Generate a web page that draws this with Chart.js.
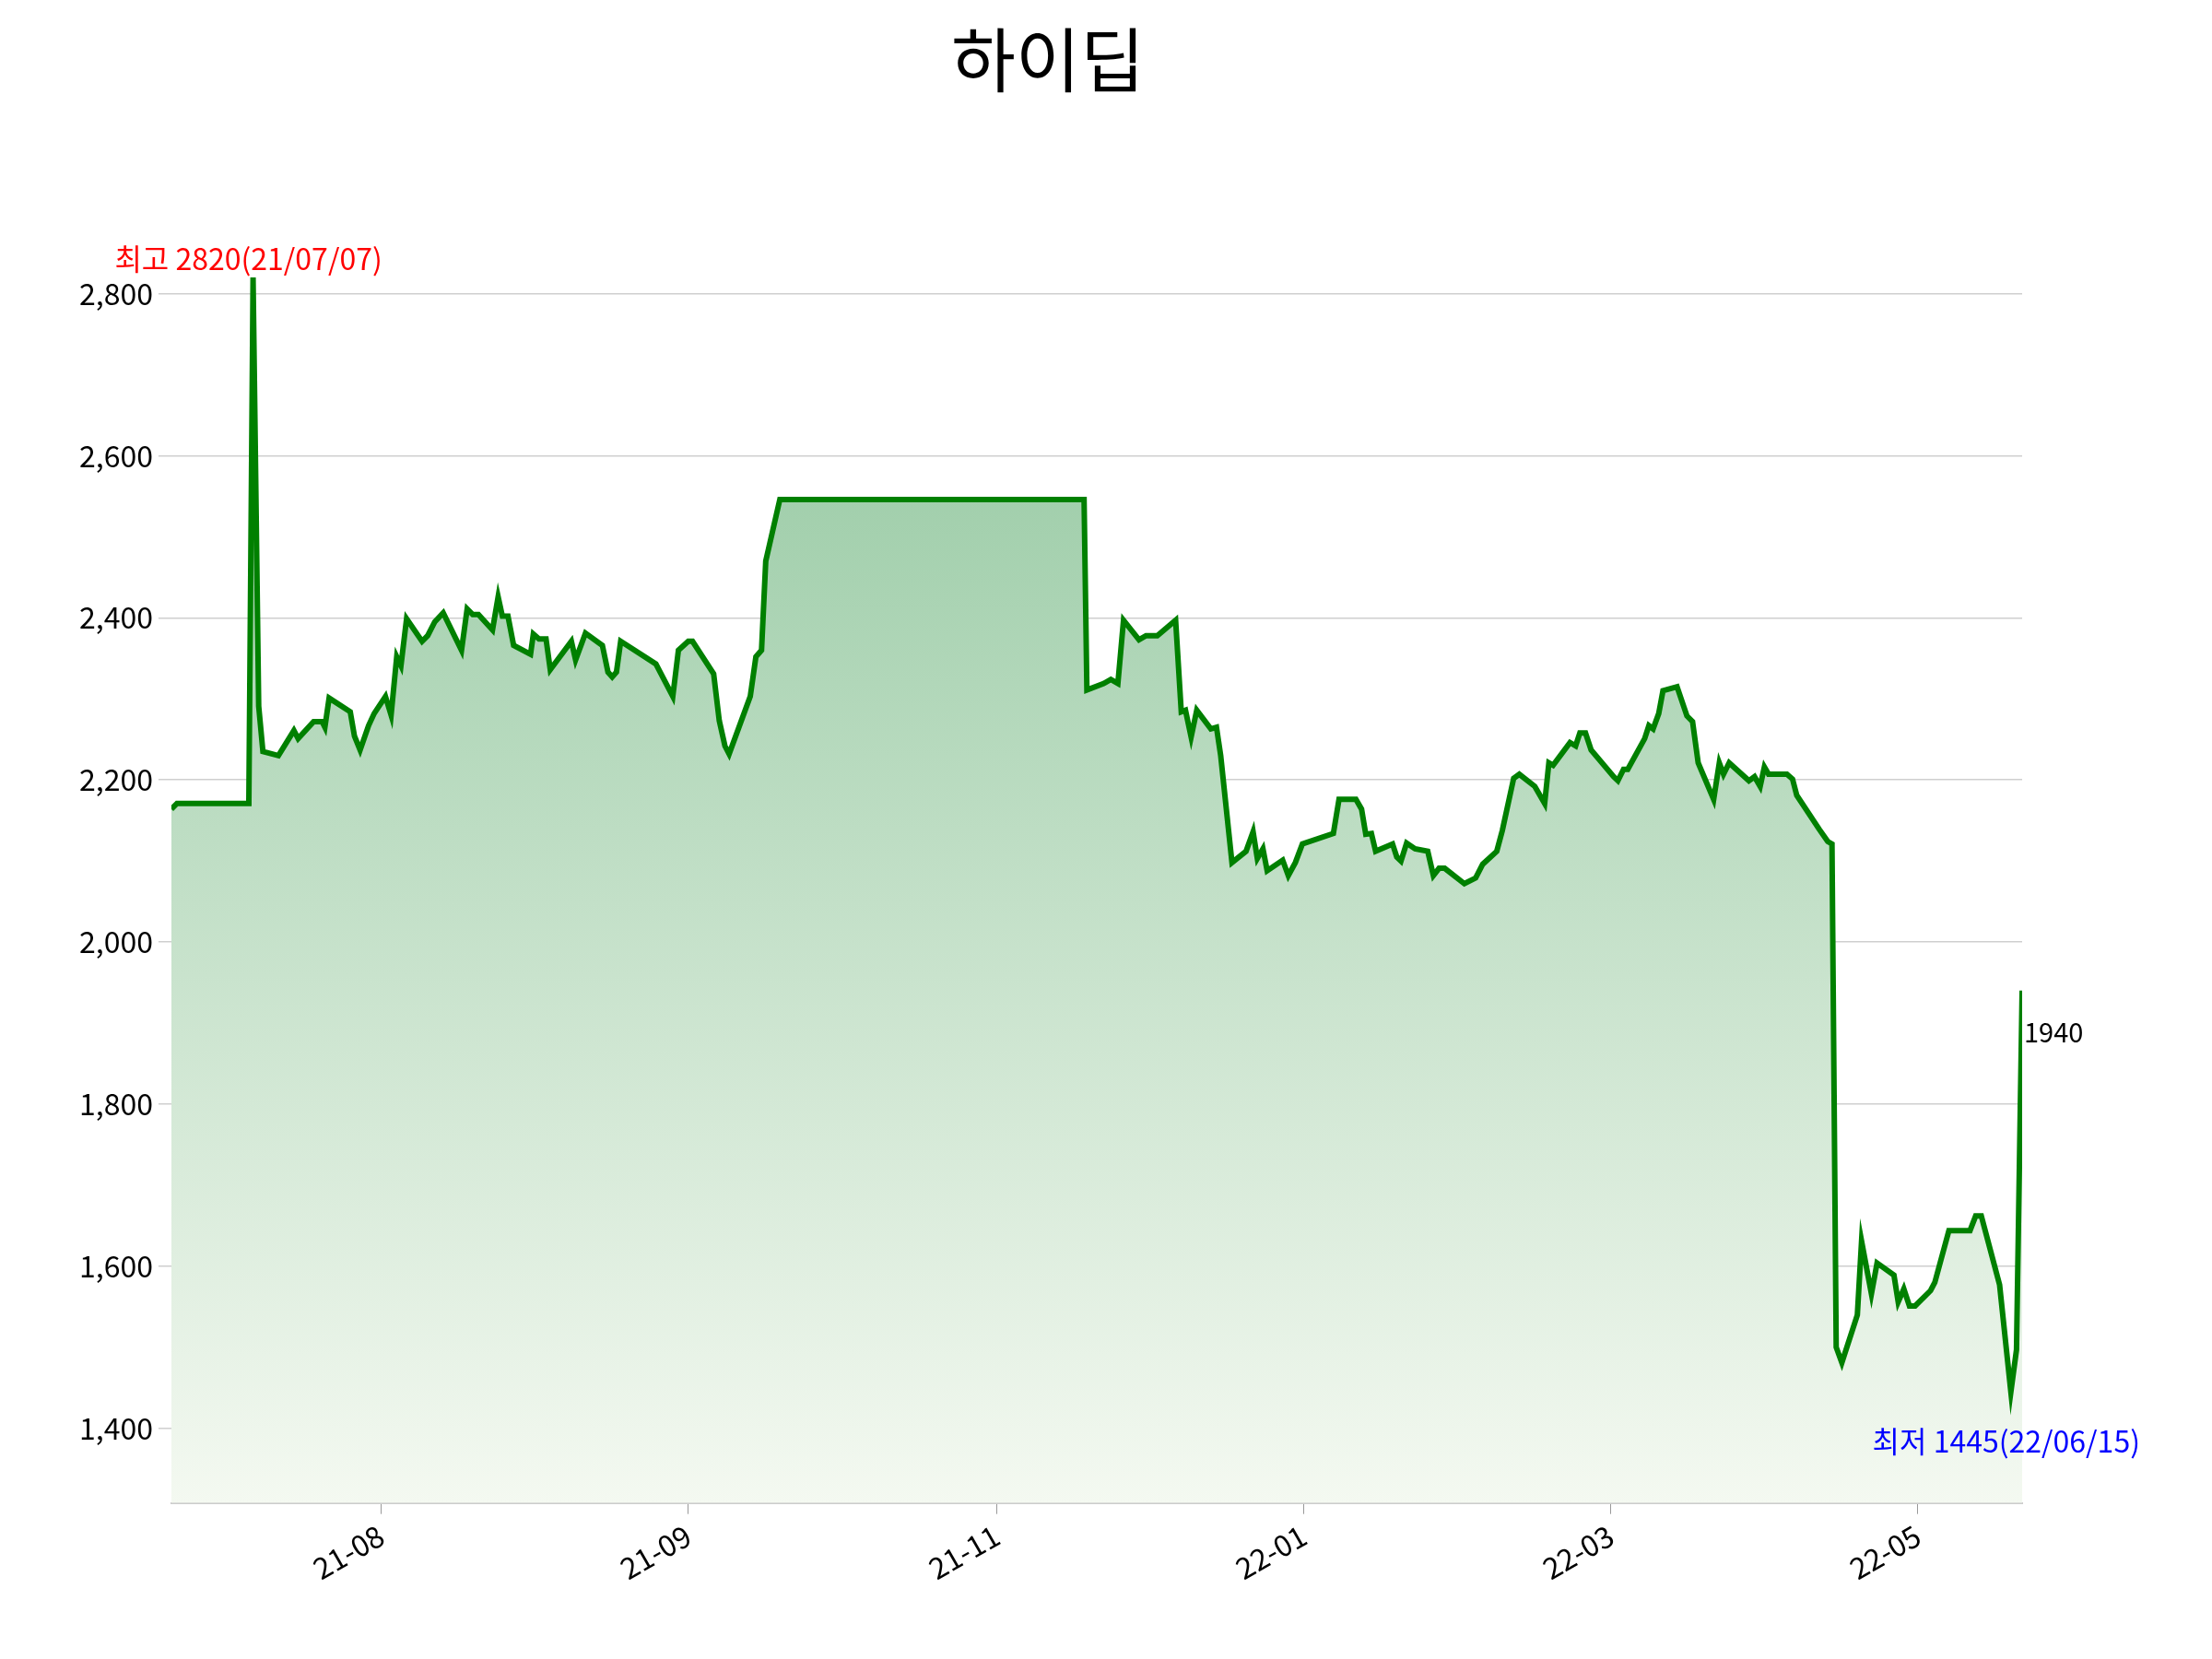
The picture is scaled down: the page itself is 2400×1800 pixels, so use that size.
<!DOCTYPE html>
<html><head><meta charset="utf-8">
<script src="https://cdn.jsdelivr.net/npm/chart.js@4/dist/chart.umd.min.js"></script>
<style>html,body{margin:0;padding:0;background:#fff}#w{width:2400px;height:1800px}</style>
</head><body><div id="w"><canvas id="c" width="2400" height="1800"></canvas></div>
<script>
const title = "하이딥";
const dayPos = [0,4,55,58,62,65,76,87,90,101,107,109,112,127,130,134,140,144,152,156,160,163,167,178,182,187,193,206,210,214,218,228,232,235,239,243,255,257,261,266,269,284,287,294,306,310,313,316,319,344,356,360,367,370,385,389,393,396,411,415,419,422,432,648,650,662,667,672,676,687,692,700,713,717,720,724,728,738,742,745,753,763,768,771,775,778,789,793,798,803,825,829,841,845,848,852,855,867,870,873,877,883,892,896,900,904,918,926,931,941,945,953,957,968,975,978,981,993,997,1000,1004,1008,1024,1027,1031,1034,1046,1049,1052,1056,1059,1069,1076,1080,1084,1095,1099,1102,1106,1120,1124,1128,1131,1134,1147,1151,1154,1170,1176,1179,1182,1186,1197,1200,1207,1211,1223,1226,1230,1234,1238,1249,1252,1262,1277,1281,1285,1298,1306,1310,1314];
const prices = [2164,2171,2171,2820,2291,2235,2230,2261,2251,2272,2272,2265,2301,2284,2254,2237,2267,2282,2303,2280,2352,2341,2399,2371,2378,2395,2406,2360,2411,2404,2404,2385,2426,2402,2402,2366,2355,2380,2374,2374,2336,2371,2348,2381,2366,2333,2327,2333,2371,2343,2303,2360,2371,2371,2331,2273,2242,2232,2303,2352,2360,2470,2546,2546,2311,2319,2324,2319,2397,2373,2378,2378,2397,2284,2286,2253,2286,2263,2265,2230,2098,2112,2136,2103,2115,2088,2101,2082,2098,2121,2134,2176,2176,2164,2133,2134,2112,2121,2105,2100,2122,2115,2112,2082,2091,2091,2072,2079,2096,2112,2138,2202,2207,2192,2171,2221,2218,2246,2242,2258,2258,2237,2204,2199,2213,2213,2251,2267,2263,2282,2310,2315,2279,2272,2221,2176,2221,2207,2221,2199,2204,2192,2216,2207,2207,2201,2181,2139,2124,2121,1500,1481,1540,1631,1566,1604,1589,1556,1572,1551,1551,1570,1580,1644,1644,1662,1662,1577,1445,1497,1940];
const tickPos = [149,367,586,804,1022,1240];
const tickLabels = ["21-08","21-09","21-11","22-01","22-03","22-05"];
const yTicks = [1400,1600,1800,2000,2200,2400,2600,2800];
const highLabel = "최고 2820(21/07/07)";
const lowLabel = "최저 1445(22/06/15)";

const F = "'Noto Sans CJK KR','Noto Sans',sans-serif";
const pts = dayPos.map((x,i)=>({x, y: prices[i]}));
const hi = prices.indexOf(Math.max(...prices));
const lo = prices.indexOf(Math.min(...prices));
const last = prices.length-1;

const annot = {
  id:'annot',
  afterDatasetsDraw(chart){
    const {ctx, scales:{x,y}} = chart;
    ctx.save();
    ctx.font = "32px "+F;
    ctx.textBaseline = 'bottom';
    ctx.fillStyle = 'red'; ctx.textAlign='center';
    ctx.fillText(highLabel, x.getPixelForValue(dayPos[hi]) - 5, y.getPixelForValue(prices[hi]) - 4);
    ctx.fillStyle = 'blue';
    ctx.fillText(lowLabel, x.getPixelForValue(dayPos[lo]) - 5, y.getPixelForValue(prices[lo]) + 70);
    ctx.fillStyle = 'black'; ctx.textAlign='left'; ctx.font = "29px "+F;
    ctx.fillText(String(prices[last]), x.getPixelForValue(dayPos[last]) + 2, y.getPixelForValue(prices[last]) + 60);
    ctx.restore();
  }
};

new Chart(document.getElementById('c'), {
  type:'line',
  data:{datasets:[{
    data:pts, borderColor:'#008000', borderWidth:6, pointRadius:0, tension:0,
    fill:'start',
    backgroundColor(ctx){
      const a = ctx.chart.chartArea; if(!a) return 'rgba(0,128,0,0.3)';
      const g = ctx.chart.ctx.createLinearGradient(0,a.top,0,a.bottom);
      g.addColorStop(0,'#8cc49a'); g.addColorStop(1,'#f4f9f1'); return g;
    }
  }]},
  options:{
    responsive:false, devicePixelRatio:1, animation:false,
    layout:{padding:{left:80,right:206,top:20,bottom:75}},
    plugins:{legend:{display:false}, tooltip:{enabled:false},
      title:{display:true, text:title, color:'#000', font:{family:F,size:76,weight:'normal'}, padding:{top:0,bottom:137}}},
    scales:{
      x:{type:'linear', min:0, max:1314,
        afterBuildTicks(s){ s.ticks = tickPos.map(v=>({value:v})); },
        ticks:{callback:(v)=>tickLabels[tickPos.indexOf(v)], maxRotation:30, minRotation:30, color:'#000', font:{family:F,size:32}, autoSkip:false, padding:4},
        grid:{drawOnChartArea:false, tickLength:12, color:'#999'},
        border:{color:'#ccc', width:2}},
      y:{min:1308, max:2880,
        afterBuildTicks(s){ s.ticks = yTicks.map(v=>({value:v})); },
        ticks:{callback:(v)=>v.toLocaleString('en-US'), color:'#000', font:{family:F,size:32}, padding:6},
        grid:{color:'#cfcfcf', lineWidth:1.5, tickLength:14},
        border:{display:false}}
    }
  },
  plugins:[annot]
});
</script></body></html>
